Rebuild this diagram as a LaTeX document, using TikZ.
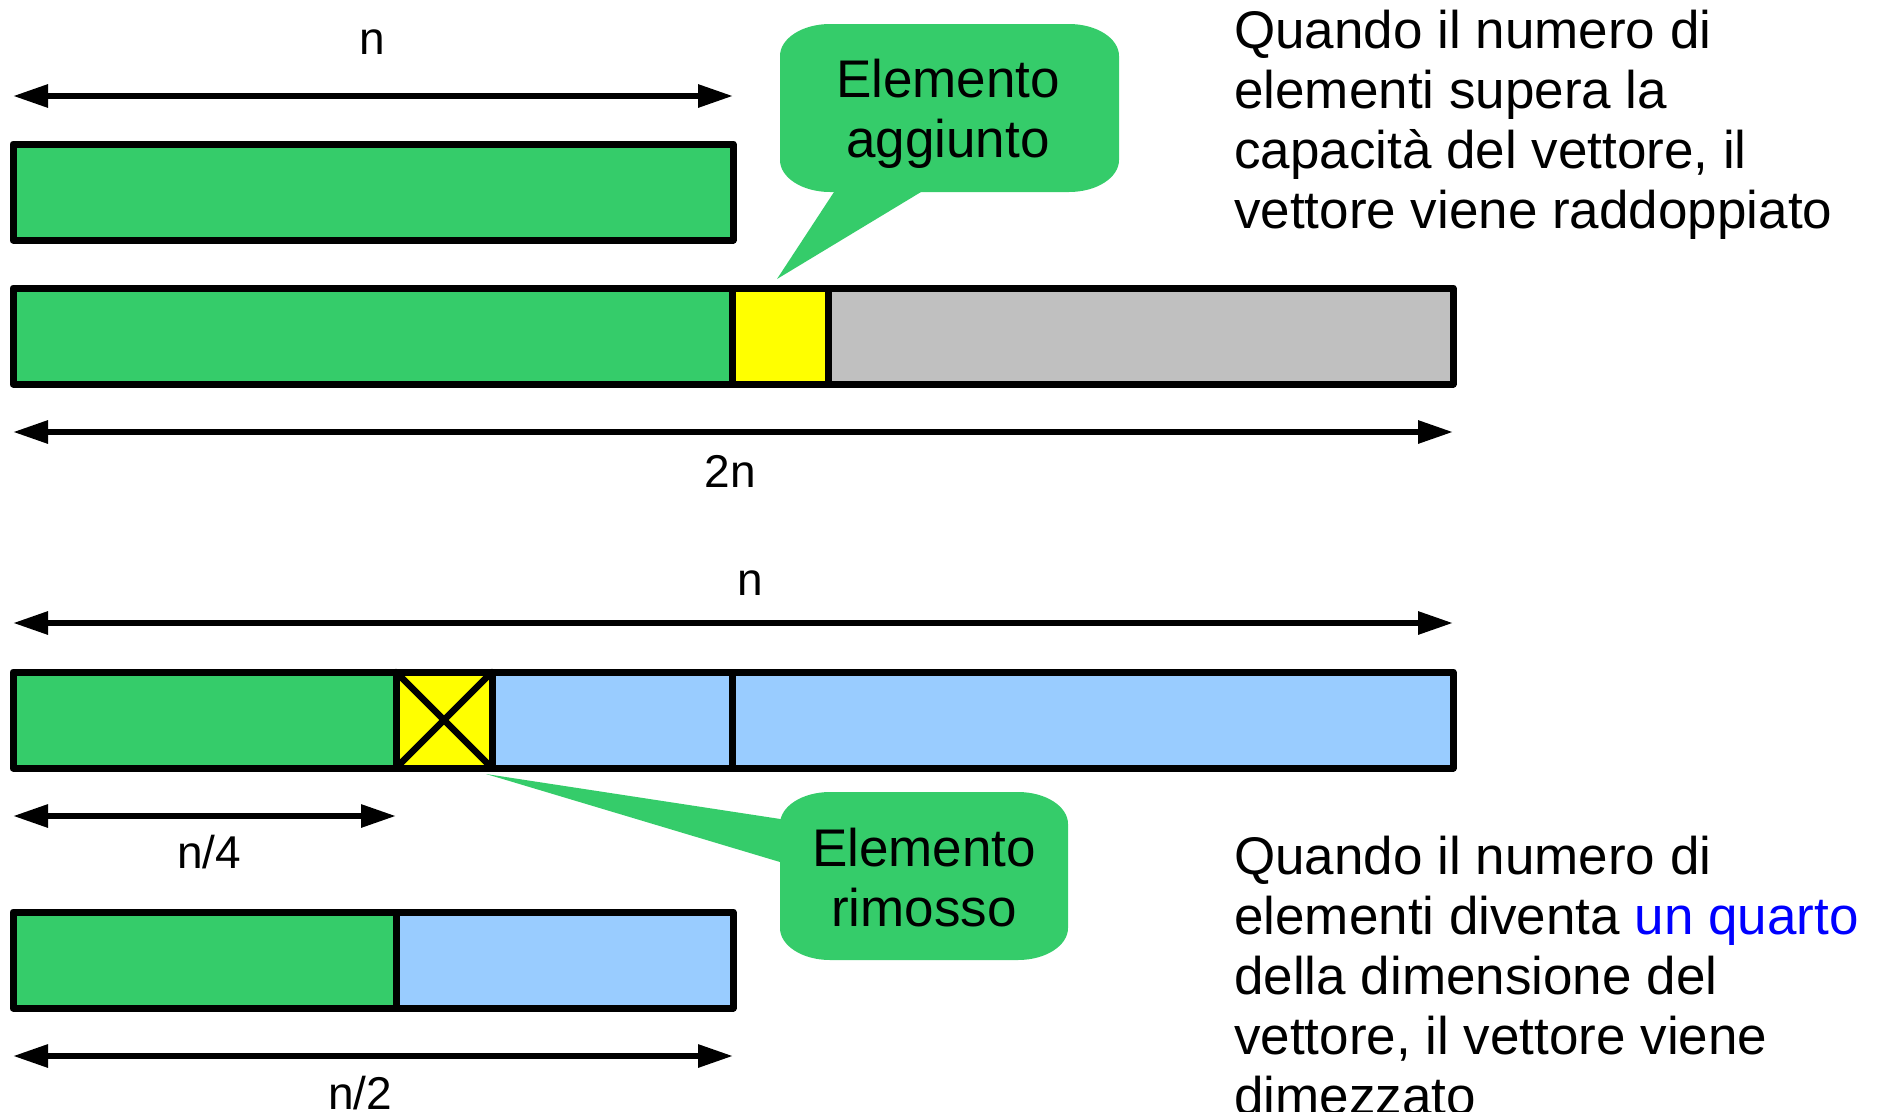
\documentclass[tikz,border=0pt]{standalone}
\usepackage{fontspec}
\setmainfont{Liberation Sans}
\usetikzlibrary{arrows.meta}
\definecolor{vgreen}{RGB}{53,204,106}
\definecolor{vyellow}{RGB}{255,255,0}
\definecolor{vgray}{RGB}{192,192,192}
\definecolor{vblue}{RGB}{153,204,255}
\definecolor{qblue}{RGB}{0,0,255}
\begin{document}
\begin{tikzpicture}[x=1pt,y=-1pt,
 cell/.style={draw=black, line width=7pt, line join=round, inner sep=0pt, outer sep=0pt, anchor=north west, minimum height=96pt},
 dim/.style={line width=6pt, {Triangle[length=35pt,width=22pt]}-{Triangle[length=35pt,width=22pt]}},
 lab/.style={inner sep=0pt, anchor=base, font=\fontsize{46}{55}\selectfont},
 txt/.style={inner sep=0pt, anchor=base west, font=\fontsize{53}{60}\selectfont},
 ctxt/.style={inner sep=0pt, anchor=base, font=\fontsize{53}{60}\selectfont},
 bubble/.style={fill=vgreen, draw=none},
 crossline/.style={line width=6.5pt, line cap=round}
]
\useasboundingbox (0,0) rectangle (1882,1111);

% ---------- top part ----------
\coordinate (a1l) at (13,96);
\coordinate (a1r) at (733,96);
\draw[dim] (a1l) -- (a1r);
\node[lab] (ln1) at (372,54) {n};

\node[cell, fill=vgreen, minimum width=720pt] (r1g) at (13,144) {};

\node[cell, fill=vgreen, minimum width=719pt] (r2g) at (13,288) {};
\node[cell, fill=vgray, minimum width=625pt] (r2s) at (828,288) {};
\node[cell, fill=vyellow, minimum width=96pt] (r2y) at (732,288) {};

\coordinate (a2l) at (13,432);
\coordinate (a2r) at (1453,432);
\draw[dim] (a2l) -- (a2r);
\node[lab] (l2n) at (730,487) {2n};

% callout 1
\path[bubble] (830,24) -- (1069,24) .. controls (1096.6,24) and (1119,38.3) .. (1119,56) -- (1119,160) .. controls (1119,177.7) and (1096.6,192) .. (1069,192) -- (830,192) .. controls (802.4,192) and (780,177.7) .. (780,160) -- (780,56) .. controls (780,38.3) and (802.4,24) .. (830,24) -- cycle;
\coordinate (tip1) at (777,279);
\path[bubble] (838.6,185) -- (tip1) -- (932.6,185) -- cycle;
\node[ctxt] (c1a) at (948,97) {Elemento};
\node[ctxt] (c1b) at (948,157) {aggiunto};

% right text 1
\node[txt] (t1a) at (1234,48) {Quando il numero di};
\node[txt] (t1b) at (1234,108) {elementi supera la};
\node[txt] (t1c) at (1234,168) {capacità del vettore, il};
\node[txt] (t1d) at (1234,228) {vettore viene raddoppiato};

% ---------- bottom part ----------
\coordinate (a3l) at (13,623);
\coordinate (a3r) at (1453,623);
\draw[dim] (a3l) -- (a3r);
\node[lab] (ln3) at (750,595) {n};

\node[cell, fill=vgreen, minimum width=383pt] (r3g) at (13,672) {};
\node[cell, fill=vblue, minimum width=240pt] (r3b) at (492,672) {};
\node[cell, fill=vblue, minimum width=721pt] (r3c) at (732,672) {};
\node[cell, fill=vyellow, minimum width=96pt] (r3y) at (396,672) {};
\draw[crossline] (r3y.north west) -- (r3y.south east);
\draw[crossline] (r3y.north east) -- (r3y.south west);

\coordinate (a4l) at (13,816);
\coordinate (a4r) at (396,816);
\draw[dim] (a4l) -- (a4r);
\node[lab] (ln4) at (209,868) {n/4};

\node[cell, fill=vgreen, minimum width=383pt] (r4g) at (13,912) {};
\node[cell, fill=vblue, minimum width=337pt] (r4b) at (396,912) {};

\coordinate (a5l) at (13,1056);
\coordinate (a5r) at (733,1056);
\draw[dim] (a5l) -- (a5r);
\node[lab] (ln5) at (360,1109) {n/2};

% callout 2
\path[bubble] (830,792) -- (1018,792) .. controls (1045.6,792) and (1068,806.3) .. (1068,824) -- (1068,928) .. controls (1068,945.7) and (1045.6,960) .. (1018,960) -- (830,960) .. controls (802.4,960) and (780,945.7) .. (780,928) -- (780,824) .. controls (780,806.3) and (802.4,792) .. (830,792) -- cycle;
\coordinate (tip2) at (486,774);
\path[bubble] (800,822) -- (tip2) -- (800,868) -- cycle;
\node[ctxt] (c2a) at (924,866) {Elemento};
\node[ctxt] (c2b) at (924,926) {rimosso};

% right text 2
\node[txt] (t2a) at (1234,874) {Quando il numero di};
\node[txt] (t2b) at (1234,934) {elementi diventa \textcolor{qblue}{un quarto}};
\node[txt] (t2c) at (1234,994) {della dimensione del};
\node[txt] (t2d) at (1234,1054) {vettore, il vettore viene};
\node[txt] (t2e) at (1234,1114) {dimezzato};
\end{tikzpicture}
\end{document}
